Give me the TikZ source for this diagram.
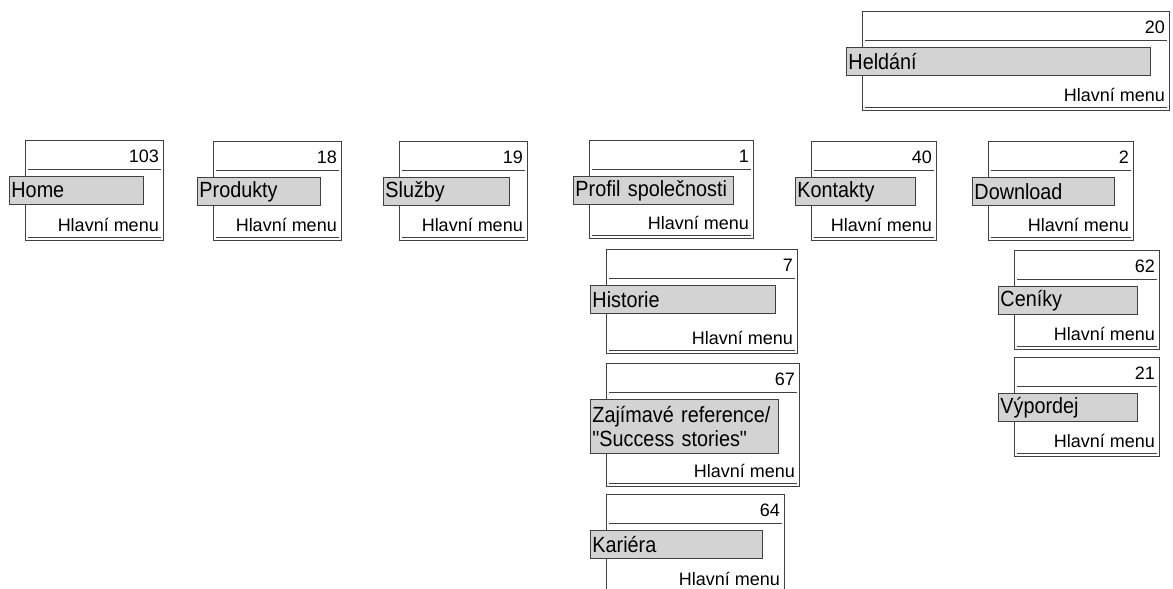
\documentclass[tikz,border=0pt]{standalone}
\usepackage{fontspec}
\setmainfont{Liberation Sans}
\newfontfamily\lblfont{Liberation Sans}[FakeStretch=0.9]
\newfontfamily\menufont{Liberation Sans}
\usetikzlibrary{calc}
\definecolor{lblgray}{HTML}{D3D3D3}
\definecolor{edge}{HTML}{404040}
\tikzset{
  outer/.style={draw=edge, line width=0.9pt, fill=white, inner sep=0pt},
  rule/.style={draw=edge, line width=0.9pt},
  numtext/.style={inner sep=0pt, font=\menufont\fontsize{18}{22}\selectfont},
  graybox/.style={draw=edge, line width=0.9pt, fill=lblgray, inner xsep=2pt, inner ysep=0pt,
     align=left, font=\lblfont\fontsize{22}{24}\selectfont},
}
% #1 name, #2 left, #3 top, #4 right, #5 bottom, #6 gray right, #7 number, #8 label, #9 gray height
\newcommand\menubox[9]{%
  \node[outer, anchor=north west, minimum width={#4-#2}, minimum height={#5-#3}] (#1) at (#2,#3) {};
  \node[numtext, anchor=base east] (#1-num) at (#4-4,#3+22) {#7};
  \draw[rule] (#2+3,#3+29) -- (#4-2,#3+29);
  \node[graybox, anchor=north west, minimum height=#9, text width={#6-#2+16-4}] (#1-lbl) at (#2-16,#3+36) {#8};
  \node[numtext, anchor=base east] (#1-menu) at (#4-4,#5-9) {Hlavní menu};
  \draw[rule] (#2+3,#5-3) -- (#4-2,#5-3);
}
\begin{document}
\begin{tikzpicture}[x=1pt,y=-1pt]
\useasboundingbox (0,0) rectangle (1173,589);
\clip (0,0) rectangle (1173,589);
\menubox{home}{25}{140}{163}{240}{143}{103}{Home}{28}
\menubox{produkty}{213}{141}{341}{240}{320}{18}{Produkty}{28}
\menubox{sluzby}{399}{141}{527}{240}{509}{19}{Služby}{28}
\menubox{profil}{589}{140}{753}{238}{733}{1}{Profil společnosti}{28}
\menubox{kontakty}{811}{141}{936}{240}{915}{40}{Kontakty}{28}
\menubox{download}{988}{141}{1133}{240}{1114}{2}{Download}{28}
\menubox{heldani}{862}{11}{1169}{110}{1150}{20}{Heldání}{28}
\menubox{historie}{606}{249}{797}{353}{775}{7}{Historie}{28}
\menubox{zajimave}{606}{363}{799}{486}{778}{67}{Zajímavé reference/\\{\char34}Success stories{\char34}}{54}
\menubox{kariera}{606}{494}{784}{594}{762}{64}{Kariéra}{28}
\menubox{ceniky}{1014}{250}{1159}{349}{1137}{62}{Ceníky}{28}
\menubox{vypordej}{1014}{357}{1159}{456}{1137}{21}{Výpordej}{28}
\end{tikzpicture}
\end{document}
